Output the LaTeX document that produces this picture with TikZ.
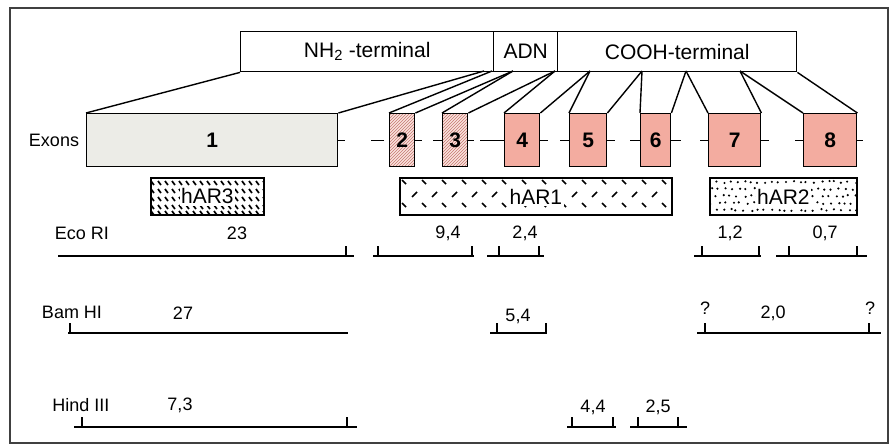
\documentclass[tikz,border=0pt]{standalone}
\usepackage{fontspec}
\setmainfont{Liberation Sans}
\usetikzlibrary{patterns}
\definecolor{exonred}{RGB}{243,172,160}
\definecolor{exongray}{RGB}{236,236,231}
\definecolor{hatchred}{RGB}{196,120,112}

\begin{document}
\begin{tikzpicture}[x=1pt, y=-1pt, line width=1.4pt,
    prot/.style={draw, anchor=north west, minimum height=40pt, inner sep=0pt, font=\fontsize{21}{23}\selectfont},
    exon/.style={draw, anchor=north west, minimum height=53pt, inner sep=0pt, fill=#1, font=\fontsize{21}{23}\selectfont\bfseries},
    hatched/.style={draw, anchor=north west, minimum height=53pt, inner sep=0pt, preaction={fill=exonred!35}, pattern=north east lines, pattern color=hatchred, font=\fontsize{21}{23}\selectfont\bfseries},
    probe/.style={draw, line width=1.8pt, anchor=north west, minimum height=37pt, inner sep=0pt},
    tag/.style={fill=white, inner sep=1.5pt, font=\fontsize{21}{23}\selectfont},
    lbl/.style={font=\fontsize{18}{20}\selectfont},
    map/.style={line width=1.5pt},
    nick/.style={line width=1.7pt}
]
    \useasboundingbox (0,0) rectangle (893,445);
    \draw[line width=1.5pt, black!75] (10,8) rectangle (888,443);

    \node[prot, minimum width=253pt] (nh) at (240,31) {NH\textsubscript{2} -terminal};
    \node[prot, minimum width=64pt] (adn) at (493,31) {ADN};
    \node[prot, minimum width=239pt] (cooh) at (557,31) {COOH-terminal};

    \node[exon=exongray, minimum width=251pt] (e1) at (86,113) {1};
    \node[hatched, minimum width=25pt] (e2) at (389,113) {2};
    \node[hatched, minimum width=25pt] (e3) at (442,113) {3};
    \node[exon=exonred, minimum width=35pt] (e4) at (504,113) {4};
    \node[exon=exonred, minimum width=37pt] (e5) at (569,113) {5};
    \node[exon=exonred, minimum width=30pt] (e6) at (640,113) {6};
    \node[exon=exonred, minimum width=52pt] (e7) at (708,113) {7};
    \node[exon=exonred, minimum width=53pt] (e8) at (803,113) {8};
    \node[lbl] (exons) at (54,140) {Exons};

    \foreach \n/\x in {k1/484, k2/492, k3/513, k4/555, k5/590, k6/642, k7/686, k8/740}
        \coordinate (\n) at (\x,71);
    \draw (e1.north west) -- (nh.south west) (e1.north east) -- (k1);
    \foreach \i/\l/\r in {2/k2/k3, 3/k3/k4, 4/k4/k5, 5/k5/k6, 6/k6/k7, 7/k7/k8}
        \draw (e\i.north west) -- (\l) (e\i.north east) -- (\r);
    \draw (e8.north west) -- (k8) (e8.north east) -- (cooh.south east);

    \foreach \i/\l in {1/7, 2/7, 3/6, 4/8, 5/8, 6/10, 7/8, 8/6}
        \draw (e\i.east) -- ++(\l,0);
    \foreach \i/\l in {3/9, 4/24, 5/9, 6/10, 7/8, 8/8}
        \draw (e\i.west) -- ++(-\l,0);
    \draw ([xshift=-5pt]e2.west) -- ++(-13,0);

    \node[probe, minimum width=113pt] (h3) at (150,177) {};
    \node[probe, minimum width=272pt] (h1) at (399,177) {};
    \node[probe, minimum width=147pt] (h2) at (709,177) {};
    \begin{scope}
        \clip (h3.north west) rectangle (h3.south east);
        \foreach \y in {181,189,197,205,211}
            \foreach \x in {151,158,...,263}
                \draw[nick] (\x,\y) -- ++(3,4);
    \end{scope}
    \begin{scope}
        \clip (h1.north west) rectangle (h1.south east);
        \foreach \x in {402,422,...,662} {
            \draw[nick] (\x,180) -- ++(4,4);
            \draw[nick] (\x+10,197) -- ++(5,-5);
            \draw[nick] (\x,203) -- ++(4,4);
        }
    \end{scope}
    \begin{scope}
        \clip (h2.north west) rectangle (h2.south east);
        \pgfmathsetseed{7}
        \foreach \y [count=\r] in {182,189,...,210}
            \foreach \x in {712,719,...,852}
                \fill ({\x+4*mod(\r,2)+2*rand},{\y+rand}) circle (1.2pt);
    \end{scope}
    \node[tag] (t3) at (h3) {hAR3};
    \node[tag] (t1) at (h1) {hAR1};
    \node[tag] (t2) at (h2) {hAR2};

    \node[lbl] (eco) at (82,233) {Eco RI};
    \node[lbl] (bam) at (72,312) {Bam HI};
    \node[lbl] (hind) at (81,405) {Hind III};
    \foreach \x/\y/\t [count=\i] in {237/233/23, 448/233/{9,4}, 525/233/{2,4}, 730/233/{1,2}, 825/233/{0,7},
        183/313/27, 518/316/{5,4}, 705/308/?, 773/313/{2,0}, 870/308/?,
        180/405/{7,3}, 593/407/{4,4}, 658/407/{2,5}}
        \node[lbl] (n\i) at (\x,\y) {\t};

    \foreach \a/\b/\y in {58/354/256, 373/474/256, 487/544/256, 694/761/256, 776/867/256,
        68/348/333, 490/547/333, 697/881/333, 74/357/427, 567/616/427, 630/687/427}
        \draw[map] (\a,\y) -- (\b,\y);
    \foreach \x/\y in {346/256, 378/256, 472/256, 499/256, 539/256, 702/256, 759/256, 789/256, 857/256,
        70/333, 497/333, 546/333, 705/333, 869/333, 82/427, 347/427, 572/427, 613/427, 638/427, 678/427}
        \draw[map] (\x,\y) -- ++(0,-10);
\end{tikzpicture}
\end{document}
